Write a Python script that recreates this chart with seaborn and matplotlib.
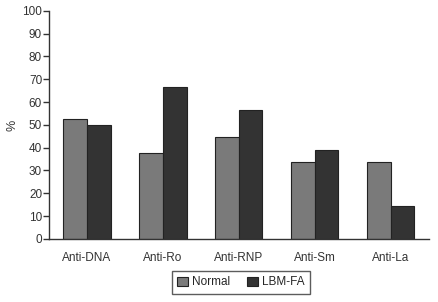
import matplotlib
matplotlib.use("Agg")
import matplotlib.pyplot as plt
import seaborn as sns
import pandas as pd

categories = ["Anti-DNA", "Anti-Ro", "Anti-RNP", "Anti-Sm", "Anti-La"]
normal = [52.5, 37.5, 44.5, 33.5, 33.5]
lbm_fa = [50.0, 66.8, 56.4, 38.9, 14.3]
series = ["Normal", "LBM-FA"]
yticks = list(range(0, 101, 10))

df = pd.DataFrame({
    "cat": categories * 2,
    "val": normal + lbm_fa,
    "grp": [series[0]] * len(categories) + [series[1]] * len(categories),
})

sns.set_style("white")
plt.rcParams["font.family"] = ["Liberation Sans", "DejaVu Sans"]

fig = plt.figure(figsize=(4.38, 3.02), dpi=100)
ax = fig.add_axes([0.112, 0.209, 0.867, 0.755])
sns.barplot(data=df, x="cat", y="val", hue="grp", order=categories, hue_order=series,
            palette=["#7a7a7a", "#333333"], width=0.62, edgecolor="#222222",
            linewidth=0.8, ax=ax, legend=True)
ax.set_xlim(-0.5, 4.5)
ax.set_ylim(0, 100)
ax.set_yticks(yticks)
ax.set_xlabel("")
ax.set_ylabel("%", fontsize=9, color="#333333", labelpad=3)
for s in ["top", "right"]:
    ax.spines[s].set_visible(False)
for s in ["left", "bottom"]:
    ax.spines[s].set_color("#333333")
    ax.spines[s].set_linewidth(1.0)
ax.tick_params(axis="y", left=True, length=4, width=1, color="#333333", labelsize=8.5, labelcolor="#333333", pad=1)
ax.tick_params(axis="x", bottom=False, labelsize=8.5, labelcolor="#333333", pad=6)

handles, labels = ax.get_legend_handles_labels()
ax.legend(handles, labels, ncol=2, loc="center", bbox_to_anchor=(0.55, 0.0646),
          bbox_transform=fig.transFigure, frameon=True, fancybox=False,
          edgecolor="#333333", fontsize=8.5, handlelength=0.9, handleheight=0.9,
          handletextpad=0.4, columnspacing=1.4, borderpad=0.45)
ax.get_legend().get_frame().set_linewidth(1.0)

fig.savefig("out.png", dpi=100)
